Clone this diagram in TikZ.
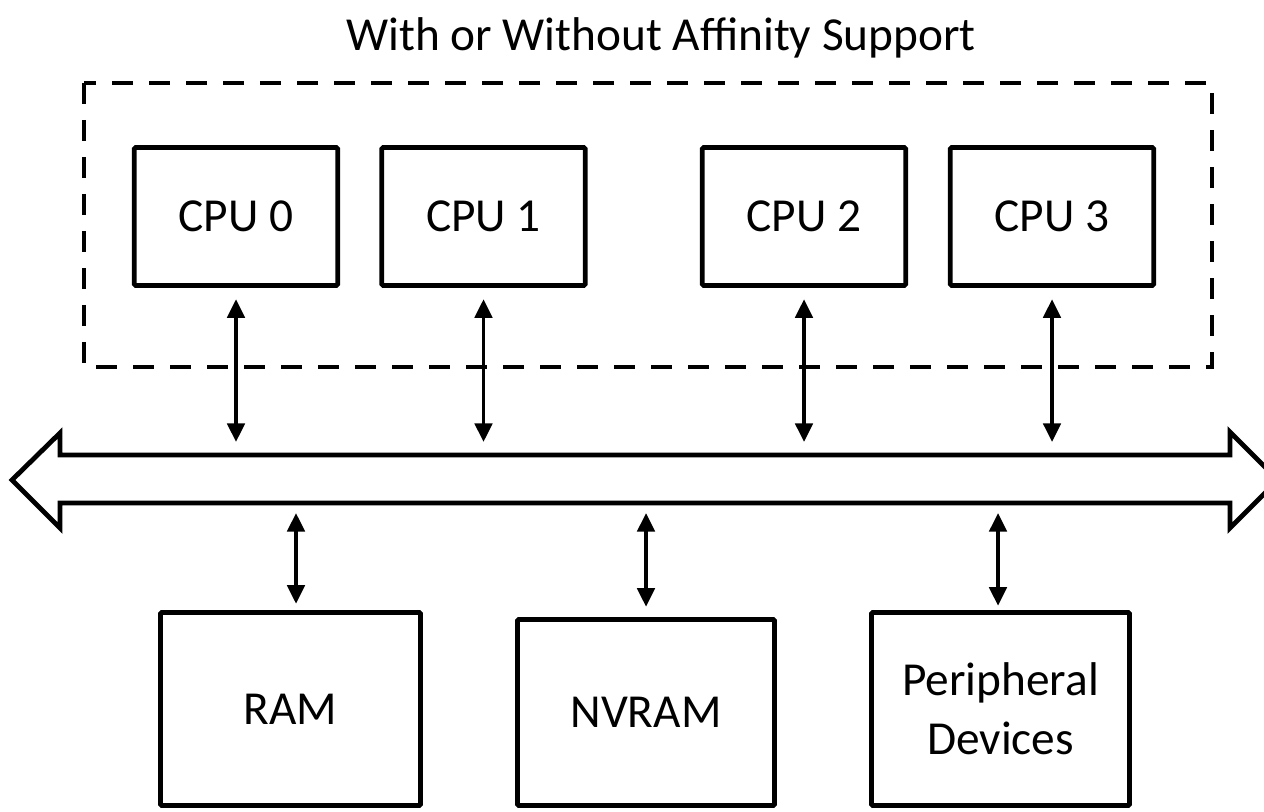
\documentclass[tikz,border=0pt]{standalone}
\usepackage{fontspec}
\setmainfont{Carlito}
\usetikzlibrary{arrows.meta,calc}
\begin{document}
\begin{tikzpicture}[x=0.75pt,y=-0.75pt,
  every node/.style={font=\fontsize{35.5}{44}\selectfont},
  box/.style={draw,line width=3.6pt,rounded corners=1pt,inner sep=0pt,align=center},
  cpubox/.style={box,minimum width=152.5pt,minimum height=103.5pt},
  biarrow/.style={line width=2.8pt,{Triangle[width=13pt,length=14pt]}-{Triangle[width=13pt,length=14pt]}},
  groupbox/.style={draw,line width=3.6pt,dash pattern=on 15.75pt off 12pt},
  bus/.style={draw,line width=3.6pt,line join=miter}
]
\useasboundingbox (0,0) rectangle (1264,812);
\clip (0,0) rectangle (1264,812);

\node (title) at (661,38) {With or Without Affinity Support};

\draw[groupbox] (84,83) rectangle (1212,367);

\node[cpubox] (cpu0) at (236,216.5) {CPU 0};
\node[cpubox] (cpu1) at (483.5,216.5) {CPU 1};
\node[cpubox] (cpu2) at (804,216.5) {CPU 2};
\node[cpubox] (cpu3) at (1052,216.5) {CPU 3};

\draw[bus] (12,480) -- (60,433) -- (60,455) -- (1230,455) -- (1230,432) -- (1278,480)
  -- (1230,528) -- (1230,503) -- (60,503) -- (60,528) -- cycle;
\coordinate (bt) at (0,455);
\coordinate (bb) at (0,503);

\node[box,minimum width=195pt,minimum height=144.75pt] (ram) at (290.5,709) {RAM};
\node[box,minimum width=192.75pt,minimum height=139.5pt] (nvram) at (646,712.5) {NVRAM};
\node[box,minimum width=193.5pt,minimum height=144.75pt] (per) at (1000.5,709) {Peripheral\\Devices};

\foreach \c in {cpu0,cpu1,cpu2,cpu3}{
  \draw[biarrow,shorten <=8.5pt,shorten >=9.75pt] (\c.south) -- (\c.south |- bt);
}
\coordinate (ramtop) at ($(ram.north)+(5.5,0)$);
\draw[biarrow,shorten <=7.5pt,shorten >=4.75pt] (ramtop |- bb) -- (ramtop);
\draw[biarrow,shorten <=7.5pt,shorten >=7.75pt] (nvram.north |- bb) -- (nvram.north);
\coordinate (pertop) at ($(per.north)+(-2.5,0)$);
\draw[biarrow,shorten <=7.5pt,shorten >=3.25pt] (pertop |- bb) -- (pertop);
\end{tikzpicture}
\end{document}
